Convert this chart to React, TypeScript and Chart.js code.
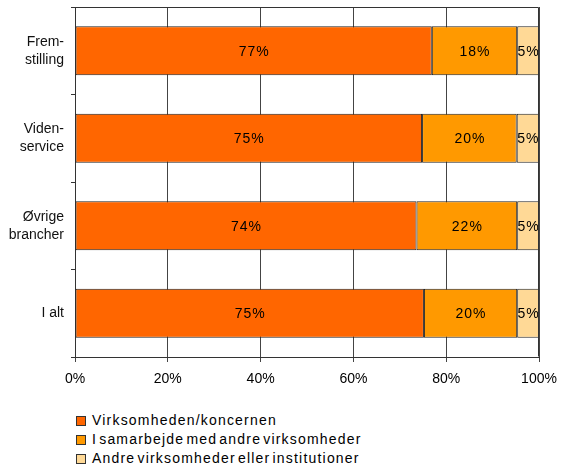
import React, { useEffect, useRef } from "react";
import { Chart, registerables } from "chart.js";

Chart.register(...registerables);

const categories: string[][] = [["Frem-", "stilling"], ["Viden-", "service"], ["Øvrige", "brancher"], ["I alt"]];
const seriesNames = [
  "Virksomheden/koncernen",
  "I samarbejde med andre virksomheder",
  "Andre virksomheder eller institutioner",
];
const virksomheden = [76.9, 74.8, 73.6, 75.2];
const samarbejde = [18.4, 20.4, 21.7, 20.1];
const andre = [4.7, 4.8, 4.7, 4.7];
const virkLabels = ["77%", "75%", "74%", "75%"];
const samLabels = ["18%", "20%", "22%", "20%"];
const andreLabels = ["5%", "5%", "5%", "5%"];
const xTicks = [0, 20, 40, 60, 80, 100];

const colors = ["#FF6600", "#FF9900", "#FFD996"];
const FONT = "'Liberation Sans', Arial, sans-serif";

const labelPlugin = {
  id: "segLabels",
  afterDatasetsDraw(chart: any) {
    const ctx = chart.ctx;
    const all = [virkLabels, samLabels, andreLabels];
    ctx.save();
    ctx.font = `14px ${FONT}`;
    try { (ctx as any).letterSpacing = "1px"; } catch (e) {}
    ctx.fillStyle = "#000";
    ctx.textAlign = "center";
    ctx.textBaseline = "middle";
    chart.data.datasets.forEach((_: any, di: number) => {
      const meta = chart.getDatasetMeta(di);
      meta.data.forEach((el: any, i: number) => {
        const cx = (el.x + el.base) / 2;
        ctx.fillText(all[di][i], cx + 0.5, el.y + 1);
      });
    });
    ctx.restore();
  },
  afterDraw(chart: any) {
    const { ctx, chartArea: a } = chart;
    ctx.save();
    ctx.strokeStyle = "#333";
    ctx.lineWidth = 1;
    ctx.beginPath();
    ctx.moveTo(Math.round(a.left) + 0.5, Math.round(a.top) + 0.5);
    ctx.lineTo(Math.round(a.right) - 0.5, Math.round(a.top) + 0.5);
    ctx.lineTo(Math.round(a.right) - 0.5, Math.round(a.bottom) - 0.5);
    ctx.stroke();
    ctx.restore();
  },
};

export default function App() {
  const ref = useRef<HTMLCanvasElement>(null);
  useEffect(() => {
    if (!ref.current) return;
    const chart = new Chart(ref.current, {
      type: "bar",
      data: {
        labels: categories,
        datasets: [
          { label: seriesNames[0], data: virksomheden, backgroundColor: colors[0] },
          { label: seriesNames[1], data: samarbejde, backgroundColor: colors[1] },
          { label: seriesNames[2], data: andre, backgroundColor: colors[2] },
        ].map((d) => ({
          ...d,
          borderColor: "#222",
          borderWidth: 1,
          borderSkipped: false,
          categoryPercentage: 0.56,
          barPercentage: 1,
        })),
      },
      options: {
        indexAxis: "y",
        animation: false,
        responsive: false,
        maintainAspectRatio: false,
        layout: { padding: { top: 7, right: 23, left: 0, bottom: 0 } },
        plugins: { legend: { display: false }, tooltip: { enabled: false } },
        scales: {
          x: {
            stacked: true,
            min: 0,
            max: 100,
            afterBuildTicks: (scale: any) => {
              scale.ticks = xTicks.map((v) => ({ value: v }));
            },
            afterFit: (scale: any) => {
              scale.height = 38;
              scale.paddingLeft = 0;
              scale.paddingRight = 0;
            },
            border: { display: true, color: "#333", width: 1 },
            grid: { color: "#444", lineWidth: 1, tickLength: 5, drawTicks: true },
            ticks: {
              padding: 9,
              color: "#000",
              font: { family: FONT, size: 14 },
              callback: (v: any) => v + "%",
              maxRotation: 0,
            },
          },
          y: {
            stacked: true,
            afterFit: (scale: any) => {
              scale.width = 75;
              scale.paddingTop = 0;
              scale.paddingBottom = 0;
            },
            border: { display: true, color: "#333", width: 1 },
            grid: { offset: true, drawOnChartArea: false, drawTicks: true, tickLength: 4, color: "#333" },
            ticks: {
              padding: 7,
              color: "#111",
              font: { family: FONT, size: 14, lineHeight: 1.3 },
            },
          },
        },
      },
      plugins: [labelPlugin],
    } as any);
    return () => chart.destroy();
  }, []);

  return (
    <div style={{ position: "fixed", left: 0, top: 0, width: 562, height: 467, background: "#fff" }}>
      <canvas ref={ref} width={562} height={395} style={{ display: "block", width: 562, height: 395 }} />
      <div style={{ position: "absolute", left: 76, top: 410, fontFamily: FONT, fontSize: 14, color: "#000" }}>
        {seriesNames.map((n, i) => (
          <div
            key={n}
            style={{ display: "flex", alignItems: "center", height: 19, letterSpacing: 1.2, wordSpacing: -3, whiteSpace: "nowrap" }}
          >
            <span
              style={{
                display: "inline-block",
                width: 8,
                height: 8,
                background: colors[i],
                border: "1px solid #333",
                marginRight: 6,
                marginTop: 2,
              }}
            />
            <span>{n}</span>
          </div>
        ))}
      </div>
    </div>
  );
}
